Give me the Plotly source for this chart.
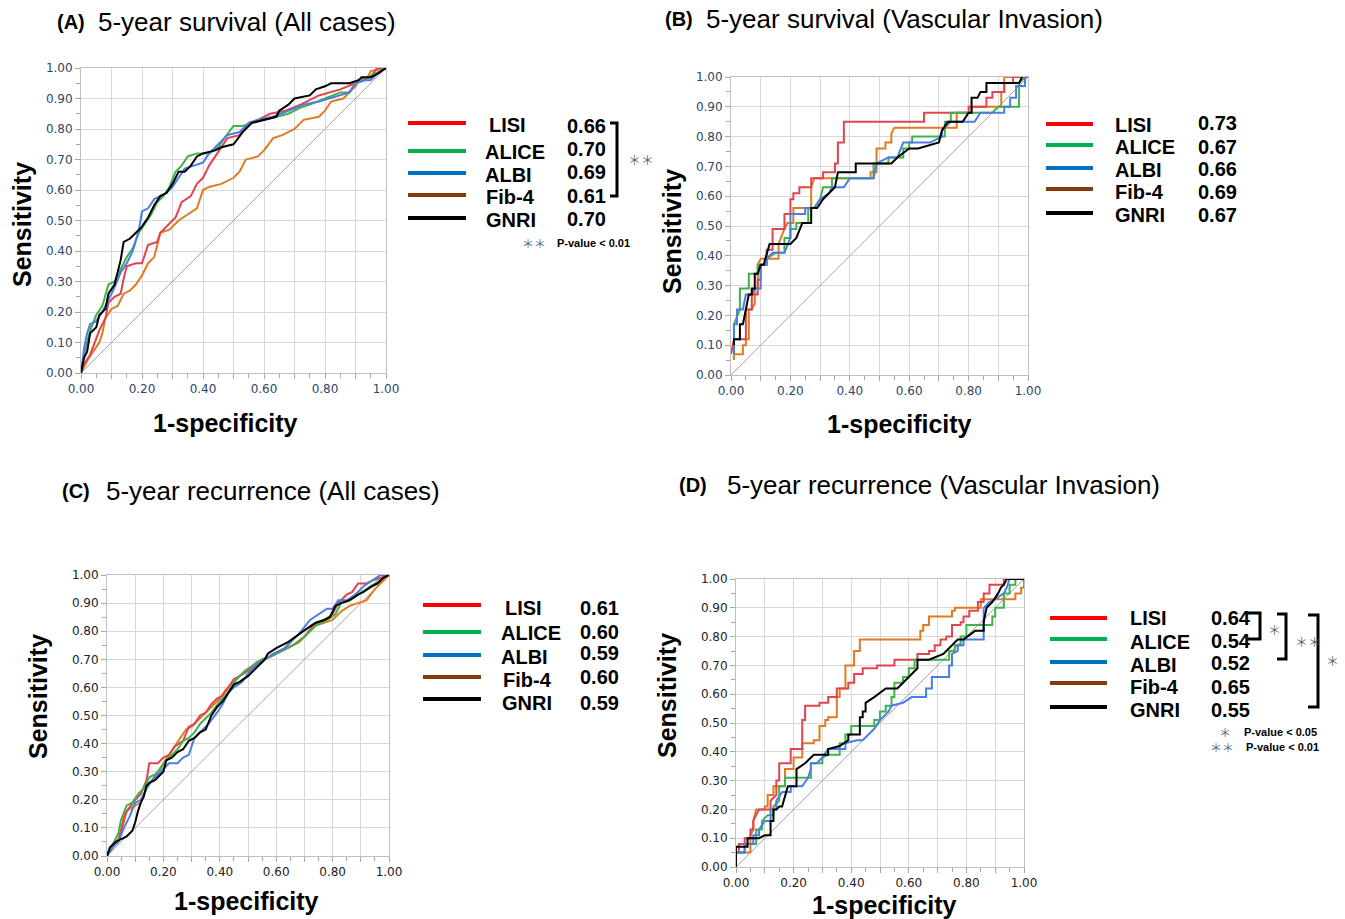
import plotly.graph_objects as go

W, H = 1345, 919

SERIES = ["LISI", "ALICE", "ALBI", "Fib-4", "GNRI"]

# ---------- Panel A: 5-year survival (All cases) ----------
A_LISI = [(0,0),(0.01,0.03),(0.03,0.06),(0.05,0.11),(0.06,0.14),(0.08,0.18),(0.09,0.23),(0.11,0.25),(0.13,0.26),(0.14,0.31),(0.15,0.35),(0.18,0.36),(0.20,0.36),(0.22,0.42),(0.25,0.43),(0.26,0.46),(0.29,0.49),(0.31,0.51),(0.33,0.56),(0.36,0.58),(0.38,0.62),(0.40,0.64),(0.42,0.68),(0.44,0.71),(0.46,0.74),(0.48,0.77),(0.52,0.78),(0.55,0.82),(0.58,0.83),(0.62,0.85),(0.67,0.86),(0.72,0.88),(0.78,0.91),(0.85,0.93),(0.90,0.95),(0.95,0.97),(0.97,1.00),(1,1)]
A_ALICE = [(0,0),(0.01,0.06),(0.02,0.10),(0.03,0.14),(0.05,0.19),(0.07,0.22),(0.09,0.29),(0.11,0.30),(0.13,0.34),(0.15,0.38),(0.17,0.41),(0.19,0.46),(0.21,0.49),(0.23,0.52),(0.25,0.56),(0.27,0.58),(0.29,0.61),(0.31,0.66),(0.33,0.68),(0.35,0.71),(0.38,0.72),(0.42,0.72),(0.45,0.74),(0.47,0.77),(0.50,0.81),(0.53,0.81),(0.56,0.82),(0.60,0.83),(0.65,0.84),(0.68,0.85),(0.72,0.87),(0.75,0.88),(0.80,0.90),(0.85,0.92),(0.88,0.92),(0.90,0.95),(0.93,0.96),(0.96,0.98),(1,1)]
A_ALBI = [(0,0),(0.01,0.08),(0.02,0.13),(0.03,0.16),(0.05,0.17),(0.07,0.20),(0.09,0.24),(0.11,0.28),(0.13,0.33),(0.15,0.36),(0.17,0.40),(0.19,0.47),(0.20,0.53),(0.22,0.54),(0.24,0.57),(0.26,0.58),(0.28,0.59),(0.30,0.61),(0.32,0.64),(0.34,0.67),(0.37,0.68),(0.40,0.69),(0.42,0.72),(0.44,0.74),(0.46,0.76),(0.48,0.78),(0.52,0.79),(0.55,0.82),(0.58,0.83),(0.63,0.84),(0.68,0.86),(0.73,0.88),(0.78,0.89),(0.85,0.91),(0.88,0.92),(0.90,0.95),(0.93,0.96),(0.95,0.96),(0.97,0.98),(1,1)]
A_FIB4 = [(0,0),(0.02,0.04),(0.04,0.07),(0.06,0.10),(0.07,0.13),(0.08,0.18),(0.10,0.21),(0.12,0.22),(0.14,0.26),(0.16,0.27),(0.18,0.29),(0.20,0.32),(0.22,0.36),(0.24,0.38),(0.26,0.46),(0.29,0.47),(0.32,0.50),(0.35,0.52),(0.38,0.54),(0.40,0.60),(0.42,0.61),(0.46,0.62),(0.50,0.64),(0.52,0.66),(0.54,0.70),(0.58,0.71),(0.60,0.73),(0.63,0.77),(0.66,0.78),(0.70,0.80),(0.73,0.83),(0.78,0.84),(0.80,0.86),(0.82,0.89),(0.86,0.90),(0.88,0.92),(0.90,0.94),(0.91,0.96),(0.94,0.97),(0.95,0.99),(1,1)]
A_GNRI = [(0,0),(0.01,0.05),(0.02,0.07),(0.03,0.13),(0.05,0.15),(0.06,0.19),(0.08,0.21),(0.09,0.26),(0.11,0.29),(0.12,0.33),(0.13,0.37),(0.14,0.43),(0.16,0.44),(0.18,0.46),(0.20,0.48),(0.22,0.51),(0.24,0.55),(0.26,0.58),(0.28,0.59),(0.30,0.62),(0.32,0.66),(0.34,0.66),(0.36,0.68),(0.38,0.71),(0.40,0.72),(0.44,0.73),(0.46,0.74),(0.50,0.75),(0.53,0.79),(0.56,0.82),(0.60,0.83),(0.64,0.84),(0.65,0.86),(0.68,0.88),(0.70,0.90),(0.75,0.91),(0.77,0.93),(0.80,0.94),(0.82,0.95),(0.88,0.95),(0.91,0.96),(0.92,0.97),(0.95,0.97),(0.97,0.98),(1,1)]
A_AUC = ["0.66", "0.70", "0.69", "0.61", "0.70"]

# ---------- Panel B: 5-year survival (Vascular Invasion) ----------
B_LISI = [(0,0.07),(0.01,0.12),(0.05,0.12),(0.05,0.22),(0.07,0.22),(0.07,0.27),(0.09,0.27),(0.09,0.32),(0.10,0.32),(0.10,0.37),(0.12,0.37),(0.12,0.42),(0.14,0.42),(0.14,0.49),(0.18,0.49),(0.18,0.54),(0.20,0.54),(0.20,0.59),(0.21,0.59),(0.21,0.61),(0.23,0.61),(0.23,0.63),(0.27,0.63),(0.27,0.66),(0.31,0.66),(0.31,0.68),(0.35,0.68),(0.35,0.71),(0.36,0.71),(0.36,0.78),(0.38,0.78),(0.38,0.85),(0.65,0.85),(0.65,0.88),(0.80,0.88),(0.80,0.90),(0.86,0.90),(0.86,0.93),(0.88,0.93),(0.88,0.95),(0.92,0.95),(0.92,0.98),(0.95,0.98),(0.95,1.0),(1,1)]
B_ALICE = [(0.01,0.07),(0.01,0.17),(0.03,0.22),(0.03,0.29),(0.06,0.29),(0.06,0.34),(0.09,0.34),(0.09,0.37),(0.12,0.37),(0.12,0.39),(0.15,0.41),(0.18,0.41),(0.18,0.46),(0.20,0.46),(0.20,0.49),(0.22,0.49),(0.22,0.51),(0.26,0.51),(0.26,0.56),(0.28,0.56),(0.30,0.59),(0.31,0.63),(0.34,0.63),(0.34,0.66),(0.48,0.66),(0.48,0.71),(0.53,0.71),(0.53,0.73),(0.58,0.73),(0.58,0.76),(0.60,0.76),(0.60,0.78),(0.61,0.78),(0.61,0.80),(0.72,0.80),(0.72,0.85),(0.74,0.85),(0.74,0.88),(0.86,0.88),(0.88,0.88),(0.90,0.90),(0.97,0.90),(0.97,0.98),(0.99,1.0)]
B_ALBI = [(0.01,0.07),(0.01,0.17),(0.02,0.17),(0.02,0.22),(0.04,0.22),(0.05,0.27),(0.07,0.27),(0.08,0.29),(0.10,0.29),(0.10,0.37),(0.12,0.37),(0.12,0.39),(0.14,0.41),(0.18,0.41),(0.20,0.46),(0.20,0.54),(0.25,0.54),(0.25,0.56),(0.28,0.56),(0.30,0.59),(0.33,0.61),(0.34,0.63),(0.38,0.63),(0.40,0.66),(0.48,0.66),(0.49,0.71),(0.53,0.73),(0.56,0.73),(0.58,0.78),(0.67,0.78),(0.71,0.80),(0.71,0.82),(0.74,0.85),(0.82,0.85),(0.84,0.88),(0.92,0.88),(0.92,0.90),(0.94,0.90),(0.94,0.93),(0.96,0.93),(0.96,0.97),(0.99,0.97),(0.99,1.0)]
B_FIB4 = [(0.01,0.05),(0.01,0.07),(0.04,0.07),(0.04,0.10),(0.05,0.10),(0.05,0.12),(0.06,0.12),(0.06,0.22),(0.07,0.22),(0.08,0.24),(0.08,0.29),(0.09,0.29),(0.09,0.37),(0.10,0.39),(0.16,0.39),(0.16,0.44),(0.18,0.49),(0.19,0.51),(0.21,0.51),(0.21,0.56),(0.27,0.56),(0.27,0.63),(0.28,0.66),(0.47,0.66),(0.47,0.68),(0.49,0.68),(0.49,0.76),(0.52,0.76),(0.52,0.78),(0.54,0.78),(0.54,0.81),(0.55,0.83),(0.72,0.83),(0.76,0.83),(0.76,0.88),(0.81,0.88),(0.81,0.90),(0.91,0.90),(0.91,0.95),(0.92,0.95),(0.92,1.0),(1,1)]
B_GNRI = [(0.01,0.10),(0.01,0.12),(0.03,0.12),(0.03,0.17),(0.04,0.17),(0.05,0.22),(0.06,0.27),(0.07,0.27),(0.07,0.29),(0.08,0.29),(0.08,0.34),(0.09,0.34),(0.10,0.37),(0.11,0.37),(0.12,0.41),(0.13,0.44),(0.20,0.44),(0.22,0.46),(0.24,0.51),(0.27,0.51),(0.27,0.56),(0.29,0.56),(0.31,0.59),(0.33,0.61),(0.35,0.63),(0.36,0.68),(0.42,0.68),(0.42,0.71),(0.54,0.71),(0.56,0.73),(0.60,0.76),(0.63,0.76),(0.67,0.77),(0.70,0.78),(0.71,0.82),(0.73,0.85),(0.78,0.85),(0.80,0.88),(0.81,0.88),(0.81,0.93),(0.83,0.93),(0.84,0.95),(0.86,0.95),(0.86,0.98),(0.97,0.98),(0.98,1.0)]
B_AUC = ["0.73", "0.67", "0.66", "0.69", "0.67"]

# ---------- Panel C: 5-year recurrence (All cases) ----------
C_LISI = [(0,0),(0.02,0.04),(0.04,0.05),(0.05,0.10),(0.06,0.14),(0.07,0.16),(0.10,0.20),(0.12,0.22),(0.14,0.27),(0.15,0.33),(0.18,0.33),(0.20,0.35),(0.22,0.36),(0.24,0.39),(0.27,0.41),(0.29,0.46),(0.31,0.47),(0.33,0.50),(0.35,0.51),(0.37,0.54),(0.39,0.56),(0.41,0.57),(0.43,0.60),(0.45,0.63),(0.47,0.64),(0.50,0.66),(0.53,0.68),(0.55,0.70),(0.58,0.71),(0.62,0.73),(0.66,0.75),(0.70,0.78),(0.73,0.82),(0.77,0.84),(0.80,0.86),(0.82,0.90),(0.85,0.93),(0.87,0.94),(0.89,0.97),(0.92,0.97),(0.94,0.98),(0.97,0.99),(1,1)]
C_ALICE = [(0,0),(0.02,0.04),(0.04,0.08),(0.05,0.13),(0.07,0.18),(0.09,0.19),(0.11,0.22),(0.13,0.24),(0.15,0.28),(0.17,0.29),(0.19,0.31),(0.21,0.34),(0.23,0.36),(0.25,0.38),(0.27,0.41),(0.29,0.42),(0.31,0.44),(0.33,0.47),(0.35,0.49),(0.37,0.51),(0.40,0.55),(0.42,0.57),(0.44,0.60),(0.46,0.63),(0.49,0.66),(0.52,0.68),(0.55,0.70),(0.58,0.71),(0.62,0.73),(0.66,0.75),(0.70,0.78),(0.74,0.82),(0.78,0.84),(0.81,0.86),(0.83,0.90),(0.86,0.91),(0.89,0.93),(0.92,0.95),(0.95,0.97),(0.98,0.99),(1,1)]
C_ALBI = [(0,0),(0.02,0.03),(0.04,0.05),(0.06,0.10),(0.08,0.14),(0.10,0.19),(0.12,0.20),(0.14,0.24),(0.16,0.27),(0.18,0.29),(0.20,0.31),(0.22,0.33),(0.25,0.33),(0.27,0.35),(0.29,0.36),(0.31,0.42),(0.34,0.45),(0.36,0.47),(0.39,0.51),(0.41,0.54),(0.43,0.58),(0.45,0.60),(0.48,0.62),(0.50,0.65),(0.53,0.68),(0.56,0.70),(0.59,0.72),(0.63,0.74),(0.66,0.77),(0.68,0.79),(0.72,0.84),(0.75,0.86),(0.78,0.88),(0.80,0.88),(0.82,0.91),(0.85,0.91),(0.88,0.93),(0.91,0.96),(0.94,0.98),(0.97,1.0),(1,1)]
C_FIB4 = [(0,0),(0.02,0.03),(0.04,0.06),(0.06,0.12),(0.07,0.16),(0.10,0.18),(0.12,0.19),(0.14,0.24),(0.16,0.27),(0.18,0.30),(0.20,0.33),(0.22,0.36),(0.24,0.39),(0.26,0.42),(0.28,0.45),(0.30,0.46),(0.32,0.48),(0.34,0.50),(0.36,0.52),(0.38,0.54),(0.40,0.56),(0.42,0.59),(0.44,0.61),(0.47,0.64),(0.50,0.66),(0.53,0.69),(0.56,0.70),(0.60,0.72),(0.64,0.74),(0.68,0.76),(0.71,0.79),(0.74,0.82),(0.77,0.83),(0.80,0.84),(0.83,0.87),(0.86,0.89),(0.89,0.90),(0.92,0.91),(0.95,0.95),(0.97,0.97),(1,1)]
C_GNRI = [(0,0),(0.01,0.03),(0.03,0.05),(0.05,0.06),(0.07,0.07),(0.09,0.09),(0.10,0.12),(0.11,0.16),(0.12,0.19),(0.13,0.21),(0.14,0.25),(0.15,0.26),(0.17,0.27),(0.19,0.29),(0.20,0.30),(0.21,0.34),(0.23,0.35),(0.25,0.37),(0.27,0.38),(0.29,0.41),(0.31,0.42),(0.33,0.44),(0.35,0.45),(0.37,0.50),(0.39,0.53),(0.41,0.55),(0.43,0.58),(0.45,0.61),(0.47,0.62),(0.50,0.64),(0.53,0.67),(0.56,0.70),(0.57,0.72),(0.60,0.74),(0.64,0.76),(0.68,0.79),(0.71,0.81),(0.74,0.83),(0.77,0.84),(0.79,0.85),(0.81,0.89),(0.83,0.90),(0.86,0.91),(0.89,0.93),(0.91,0.94),(0.94,0.96),(0.96,0.97),(0.98,0.99),(1,1)]
C_AUC = ["0.61", "0.60", "0.59", "0.60", "0.59"]

# ---------- Panel D: 5-year recurrence (Vascular Invasion) ----------
D_LISI = [(0,0.05),(0.01,0.05),(0.01,0.08),(0.03,0.08),(0.03,0.10),(0.05,0.10),(0.05,0.13),(0.06,0.13),(0.06,0.16),(0.07,0.18),(0.08,0.20),(0.12,0.20),(0.12,0.23),(0.14,0.25),(0.14,0.30),(0.15,0.30),(0.15,0.36),(0.19,0.36),(0.19,0.41),(0.23,0.41),(0.23,0.51),(0.24,0.51),(0.24,0.56),(0.29,0.56),(0.29,0.57),(0.32,0.57),(0.32,0.59),(0.35,0.59),(0.35,0.62),(0.39,0.62),(0.39,0.64),(0.41,0.64),(0.41,0.67),(0.44,0.67),(0.44,0.69),(0.49,0.69),(0.49,0.70),(0.55,0.70),(0.55,0.72),(0.63,0.72),(0.63,0.74),(0.67,0.74),(0.67,0.75),(0.69,0.75),(0.69,0.77),(0.71,0.77),(0.71,0.79),(0.73,0.79),(0.73,0.80),(0.75,0.80),(0.75,0.84),(0.78,0.84),(0.78,0.85),(0.79,0.85),(0.79,0.87),(0.81,0.87),(0.81,0.89),(0.84,0.89),(0.84,0.92),(0.86,0.92),(0.86,0.95),(0.88,0.95),(0.88,0.98),(0.93,0.98),(0.93,1.0),(1,1)]
D_ALICE = [(0,0.05),(0.03,0.05),(0.03,0.08),(0.07,0.08),(0.07,0.13),(0.09,0.13),(0.09,0.16),(0.11,0.18),(0.13,0.18),(0.13,0.21),(0.15,0.23),(0.15,0.28),(0.17,0.28),(0.17,0.31),(0.26,0.31),(0.26,0.36),(0.30,0.36),(0.30,0.38),(0.32,0.39),(0.36,0.39),(0.36,0.43),(0.38,0.43),(0.38,0.46),(0.40,0.46),(0.40,0.49),(0.48,0.49),(0.48,0.51),(0.50,0.51),(0.50,0.54),(0.52,0.54),(0.52,0.56),(0.54,0.56),(0.54,0.59),(0.55,0.59),(0.55,0.64),(0.58,0.64),(0.58,0.66),(0.60,0.66),(0.60,0.69),(0.62,0.69),(0.62,0.72),(0.74,0.72),(0.74,0.75),(0.76,0.75),(0.76,0.77),(0.78,0.77),(0.78,0.80),(0.80,0.80),(0.80,0.84),(0.89,0.84),(0.89,0.87),(0.90,0.87),(0.90,0.90),(0.93,0.90),(0.93,0.95),(0.95,0.95),(0.95,0.98),(0.97,0.98),(0.97,1.0),(1,1)]
D_ALBI = [(0,0.05),(0.03,0.05),(0.03,0.08),(0.06,0.08),(0.06,0.11),(0.08,0.11),(0.08,0.13),(0.10,0.16),(0.12,0.16),(0.12,0.20),(0.14,0.20),(0.14,0.23),(0.16,0.26),(0.19,0.26),(0.19,0.28),(0.23,0.28),(0.25,0.31),(0.26,0.34),(0.26,0.36),(0.28,0.36),(0.30,0.38),(0.32,0.41),(0.38,0.41),(0.38,0.43),(0.42,0.44),(0.44,0.44),(0.48,0.48),(0.50,0.51),(0.53,0.54),(0.54,0.56),(0.58,0.57),(0.61,0.59),(0.66,0.59),(0.66,0.62),(0.68,0.62),(0.68,0.66),(0.74,0.66),(0.74,0.70),(0.75,0.70),(0.75,0.74),(0.77,0.75),(0.77,0.77),(0.79,0.77),(0.79,0.79),(0.86,0.79),(0.86,0.90),(0.88,0.92),(0.90,0.93),(0.93,0.95),(0.94,0.97),(0.95,1.0),(1,1)]
D_FIB4 = [(0,0.05),(0.05,0.05),(0.05,0.11),(0.06,0.13),(0.06,0.16),(0.07,0.20),(0.10,0.20),(0.10,0.21),(0.11,0.21),(0.11,0.25),(0.13,0.25),(0.13,0.28),(0.17,0.28),(0.17,0.34),(0.20,0.34),(0.20,0.38),(0.23,0.38),(0.23,0.43),(0.27,0.43),(0.27,0.44),(0.29,0.44),(0.29,0.49),(0.31,0.49),(0.31,0.51),(0.32,0.51),(0.32,0.52),(0.35,0.52),(0.35,0.59),(0.36,0.59),(0.36,0.62),(0.38,0.62),(0.38,0.70),(0.41,0.70),(0.41,0.75),(0.43,0.75),(0.43,0.79),(0.64,0.79),(0.64,0.82),(0.65,0.82),(0.65,0.84),(0.67,0.84),(0.67,0.87),(0.75,0.87),(0.75,0.89),(0.76,0.89),(0.76,0.90),(0.85,0.90),(0.85,0.93),(0.97,0.93),(0.97,0.95),(0.99,0.95),(0.99,0.97),(1,0.97),(1,1)]
D_GNRI = [(0,0),(0,0.07),(0.04,0.07),(0.04,0.10),(0.08,0.10),(0.10,0.11),(0.12,0.11),(0.12,0.16),(0.13,0.16),(0.13,0.20),(0.14,0.20),(0.15,0.21),(0.16,0.21),(0.17,0.25),(0.18,0.28),(0.21,0.28),(0.21,0.34),(0.24,0.36),(0.27,0.39),(0.32,0.39),(0.32,0.41),(0.36,0.42),(0.39,0.44),(0.39,0.46),(0.43,0.46),(0.43,0.52),(0.44,0.52),(0.44,0.54),(0.45,0.54),(0.45,0.57),(0.48,0.59),(0.52,0.62),(0.56,0.62),(0.60,0.66),(0.63,0.69),(0.63,0.72),(0.67,0.72),(0.72,0.74),(0.75,0.77),(0.77,0.79),(0.79,0.79),(0.83,0.82),(0.86,0.82),(0.86,0.85),(0.87,0.90),(0.89,0.92),(0.91,0.95),(0.92,0.97),(0.93,0.98),(0.94,1.0),(1,1)]
D_AUC = ["0.64", "0.54", "0.52", "0.65", "0.55"]

TICK_VALS = [0.0, 0.1, 0.2, 0.3, 0.4, 0.5, 0.6, 0.7, 0.8, 0.9, 1.0]
Y_TICK_TEXT = ["0.00", "0.10", "0.20", "0.30", "0.40", "0.50", "0.60", "0.70", "0.80", "0.90", "1.00"]
X_TICK_TEXT = ["0.00", "", "0.20", "", "0.40", "", "0.60", "", "0.80", "", "1.00"]

PANELS = {
    "A": dict(curves=[A_LISI, A_ALICE, A_ALBI, A_FIB4, A_GNRI], auc=A_AUC,
              title="5-year survival (All cases)"),
    "B": dict(curves=[B_LISI, B_ALICE, B_ALBI, B_FIB4, B_GNRI], auc=B_AUC,
              title="5-year survival (Vascular Invasion)"),
    "C": dict(curves=[C_LISI, C_ALICE, C_ALBI, C_FIB4, C_GNRI], auc=C_AUC,
              title="5-year recurrence (All cases)"),
    "D": dict(curves=[D_LISI, D_ALICE, D_ALBI, D_FIB4, D_GNRI], auc=D_AUC,
              title="5-year recurrence (Vascular Invasion)"),
}

# ---------- styling / layout (pixel geometry) ----------
LINE_COLORS = ["#e4434f", "#3fb34b", "#4a7ee3", "#e07b22", "#000000"]
LEG_COLORS = ["#ff0000", "#00b050", "#0070c0", "#843c0c", "#000000"]
FONT = "Arial, Liberation Sans, sans-serif"
TICKFONT = "DejaVu Sans, Verdana, sans-serif"

GEOM = {  # plot area in pixels: left, right, top, bottom
    "A": (81, 386, 68, 373),
    "B": (731, 1028, 77, 375),
    "C": (107, 389, 575, 856),
    "D": (736, 1024, 579, 867),
}
TICKCOL = {"A": "#2e4668", "B": "#2e4668", "C": "#222222", "D": "#222222"}


def px(x):
    return x / W


def py(y):
    return 1 - y / H


fig = go.Figure()
annotations = []
shapes = []

for i, key in enumerate(["A", "B", "C", "D"]):
    n = "" if i == 0 else str(i + 1)
    xa, ya = "x" + n, "y" + n
    l, r, t, b = GEOM[key]
    # chance diagonal
    fig.add_trace(go.Scatter(x=[0, 1], y=[0, 1], mode="lines", xaxis=xa, yaxis=ya,
                             line=dict(color="#a6a6a6", width=1), showlegend=False, hoverinfo="skip"))
    curves = PANELS[key]["curves"]
    order = [3, 0, 1, 2, 4]
    for j in order:
        pts = curves[j]
        fig.add_trace(go.Scatter(x=[p[0] for p in pts], y=[p[1] for p in pts], mode="lines",
                                 xaxis=xa, yaxis=ya, name=SERIES[j],
                                 line=dict(color=LINE_COLORS[j], width=2), showlegend=False))
    axcommon = dict(range=[0, 1], tickvals=TICK_VALS, showgrid=True, gridcolor="#d9d9d9", gridwidth=1,
                    showline=True, linecolor="#bfbfbf", linewidth=1, mirror=True, zeroline=False,
                    ticks="outside", ticklen=5, tickcolor="#a6a6a6", automargin=False,
                    minor=dict(tickvals=[k * 0.05 for k in range(1, 20, 2)], ticks="outside",
                               ticklen=4, tickcolor="#a6a6a6", showgrid=False),
                    tickfont=dict(family=TICKFONT, size=12, color=TICKCOL[key]), fixedrange=True)
    fig.update_layout(**{
        "xaxis" + n: dict(axcommon, domain=[px(l), px(r)], anchor=ya, ticktext=X_TICK_TEXT),
        "yaxis" + n: dict(axcommon, domain=[py(b), py(t)], anchor=xa, ticktext=Y_TICK_TEXT),
    })

# titles
TITLE_POS = {"A": (55, 96, 22), "B": (663, 704, 19), "C": (60, 104, 491), "D": (677, 725, 485)}
for key, (xl, xt, yc) in TITLE_POS.items():
    annotations.append(dict(x=px(xl), y=py(yc), xref="paper", yref="paper", xanchor="left", yanchor="middle",
                            text="<b>(%s)</b>" % key, showarrow=False, font=dict(family=FONT, size=20, color="#000")))
    annotations.append(dict(x=px(xt), y=py(yc), xref="paper", yref="paper", xanchor="left", yanchor="middle",
                            text=PANELS[key]["title"], showarrow=False, font=dict(family=FONT, size=26, color="#000")))

# axis titles
SENS_POS = {"A": (22, 225), "B": (672, 232), "C": (38, 697), "D": (667, 696)}
SPEC_POS = {"A": (225, 423), "B": (899, 424), "C": (246, 901), "D": (884, 905)}
for key in "ABCD":
    sx, sy = SENS_POS[key]
    annotations.append(dict(x=px(sx), y=py(sy), xref="paper", yref="paper", xanchor="center", yanchor="middle",
                            text="<b>Sensitivity</b>", textangle=-90, showarrow=False,
                            font=dict(family=FONT, size=25, color="#000")))
    tx, ty = SPEC_POS[key]
    annotations.append(dict(x=px(tx), y=py(ty), xref="paper", yref="paper", xanchor="center", yanchor="middle",
                            text="<b>1-specificity</b>", showarrow=False,
                            font=dict(family=FONT, size=25, color="#000")))

# legends: (line x0, x1, line ys, label x, label ys, value x, value ys)
LEG = {
    "A": (408, 466, [123, 151, 173, 195, 218], [487, 483, 483, 484, 484], [125, 152, 175, 197, 220], 565, [126, 149, 172, 196, 219]),
    "B": (1046, 1093, [124, 145, 168, 189, 213], [1113] * 5, [125, 147, 170, 192, 215], 1196, [123, 147, 169, 192, 215]),
    "C": (423, 481, [605, 632, 655, 677, 699], [503, 499, 499, 501, 500], [608, 633, 657, 680, 703], 578, [608, 632, 653, 677, 703]),
    "D": (1050, 1107, [618, 639, 662, 683, 707], [1128] * 5, [618, 642, 665, 687, 710], 1209, [618, 641, 663, 687, 710]),
}
for key, (lx0, lx1, lys, tx, tys, vx, vys) in LEG.items():
    for j in range(5):
        shapes.append(dict(type="line", xref="paper", yref="paper", x0=px(lx0), x1=px(lx1),
                           y0=py(lys[j]), y1=py(lys[j]), line=dict(color=LEG_COLORS[j], width=4)))
        annotations.append(dict(x=px(tx[j]), y=py(tys[j]), xref="paper", yref="paper", xanchor="left",
                                yanchor="middle", text="<b>%s</b>" % SERIES[j], showarrow=False,
                                font=dict(family=FONT, size=20, color="#000")))
        annotations.append(dict(x=px(vx), y=py(vys[j]), xref="paper", yref="paper", xanchor="left",
                                yanchor="middle", text="<b>%s</b>" % PANELS[key]["auc"][j], showarrow=False,
                                font=dict(family=FONT, size=20, color="#000")))


def bracket(x0, x1, y0, y1):
    shapes.append(dict(type="path", xref="paper", yref="paper",
                       path="M %f %f L %f %f L %f %f L %f %f" % (px(x0), py(y0), px(x1), py(y0), px(x1), py(y1), px(x0), py(y1)),
                       line=dict(color="#000", width=3)))


def note(x, y, text, size, color="#000", bold=False, family=FONT):
    annotations.append(dict(x=px(x), y=py(y), xref="paper", yref="paper", xanchor="left", yanchor="middle",
                            text=("<b>%s</b>" % text) if bold else text, showarrow=False,
                            font=dict(family=family, size=size, color=color)))


STAR = "Noto Sans CJK JP, sans-serif"
# Panel A significance
bracket(610, 617, 123, 196)
note(626, 160, "＊＊", 13, "#666", family=STAR)
note(520, 243, "＊＊", 12, "#666", family=STAR)
note(555, 243, "P-value &lt; 0.01", 11, "#000", bold=True)
# Panel D significance
bracket(1248, 1260, 613, 639)
note(1266, 629, "＊", 13, "#666", family=STAR)
bracket(1277, 1286, 614, 659)
note(1293, 641, "＊＊", 13, "#666", family=STAR)
bracket(1308, 1318, 615, 707)
note(1324, 660, "＊", 13, "#666", family=STAR)
note(1217, 732, "＊", 12, "#666", family=STAR)
note(1242, 732, "P-value &lt; 0.05", 11, "#000", bold=True)
note(1208, 747, "＊＊", 12, "#666", family=STAR)
note(1244, 747, "P-value &lt; 0.01", 11, "#000", bold=True)

fig.update_layout(width=W, height=H, autosize=False,
                  margin=dict(l=0, r=0, t=0, b=0, pad=0, autoexpand=False),
                  paper_bgcolor="white", plot_bgcolor="white", showlegend=False,
                  annotations=annotations, shapes=shapes)

fig.write_html("out.html", config={"displayModeBar": False},
               post_script="document.body.style.margin='0px';document.body.style.overflow='hidden';")
